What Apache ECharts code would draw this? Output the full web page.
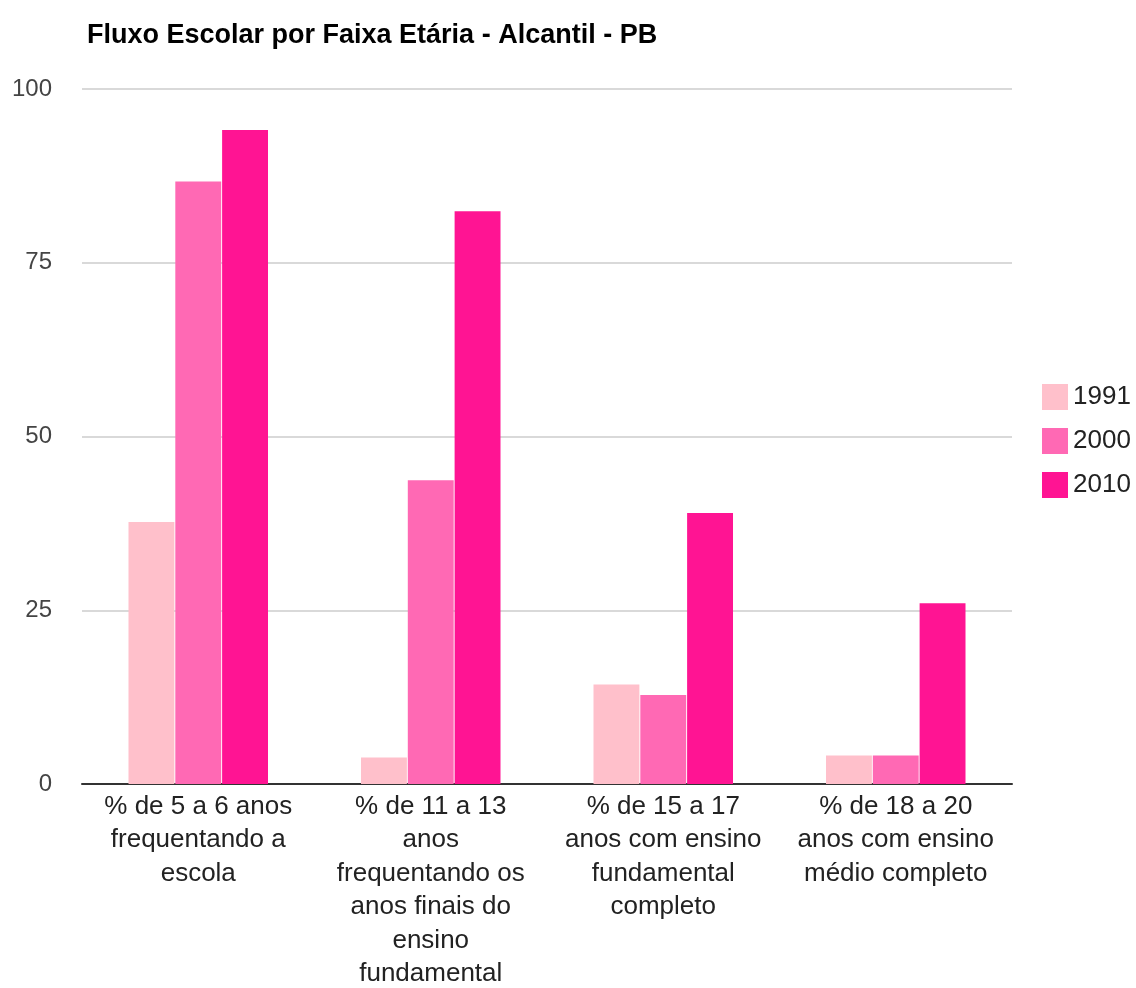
<!DOCTYPE html>
<html>
<head>
<meta charset="utf-8">
<script src="https://cdn.jsdelivr.net/npm/echarts@6/dist/echarts.min.js"></script>
<style>html,body{margin:0;padding:0;background:#fff}#c{width:1136px;height:988px}</style>
</head>
<body>
<div id="c"></div>
<script>
const categories = [
  '% de 5 a 6 anos frequentando a escola',
  '% de 11 a 13 anos frequentando os anos finais do ensino fundamental',
  '% de 15 a 17 anos com ensino fundamental completo',
  '% de 18 a 20 anos com ensino médio completo'
];
const seriesNames = ['1991', '2000', '2010'];
const values1991 = [37.7, 3.8, 14.3, 4.1];
const values2000 = [86.7, 43.7, 12.8, 4.1];
const values2010 = [94.1, 82.4, 39.0, 26.0];
const yTicks = [0, 25, 50, 75, 100];
const colors = ['#FFC0CB', '#FF69B4', '#FF1493'];

function wrap(s, max) {
  const words = s.split(' ');
  const lines = [];
  let cur = '';
  for (const w of words) {
    if (!cur) cur = w;
    else if ((cur + ' ' + w).length <= max) cur += ' ' + w;
    else { lines.push(cur); cur = w; }
  }
  if (cur) lines.push(cur);
  return lines.join('\n');
}

const font = 'Liberation Sans, Arial, sans-serif';
const chart = echarts.init(document.getElementById('c'));
const allVals = [values1991, values2000, values2010];
chart.setOption({
  animation: false,
  title: {
    text: 'Fluxo Escolar por Faixa Etária - Alcantil - PB',
    left: 82, top: 17,
    textStyle: { fontFamily: font, fontSize: 27, fontWeight: 'bold', color: '#000' }
  },
  legend: {
    orient: 'vertical', left: 1037, top: 379,
    itemWidth: 26, itemHeight: 26, itemGap: 18, icon: 'rect',
    textStyle: { fontFamily: font, fontSize: 26, color: '#222' },
    data: seriesNames
  },
  grid: { left: 82, right: 124, top: 89, bottom: 204, outerBoundsMode: 'none', containLabel: false },
  xAxis: {
    type: 'category', data: categories,
    axisTick: { show: false },
    axisLine: { lineStyle: { color: '#333', width: 2 } },
    axisLabel: {
      interval: 0, margin: 6, fontFamily: font, fontSize: 26, color: '#222', lineHeight: 33.5,
      formatter: v => wrap(v, 15)
    }
  },
  yAxis: {
    type: 'value', min: yTicks[0], max: yTicks[yTicks.length - 1], interval: 25,
    axisLine: { show: false }, axisTick: { show: false },
    splitLine: { lineStyle: { color: '#cccccc', width: 1.5 } },
    axisLabel: { margin: 30, fontFamily: font, fontSize: 24, color: '#444' }
  },
  series: seriesNames.map((n, i) => ({
    name: n, type: 'bar', data: allVals[i],
    itemStyle: { color: colors[i] },
    barGap: '2%', barCategoryGap: '40%'
  }))
});
</script>
</body>
</html>
